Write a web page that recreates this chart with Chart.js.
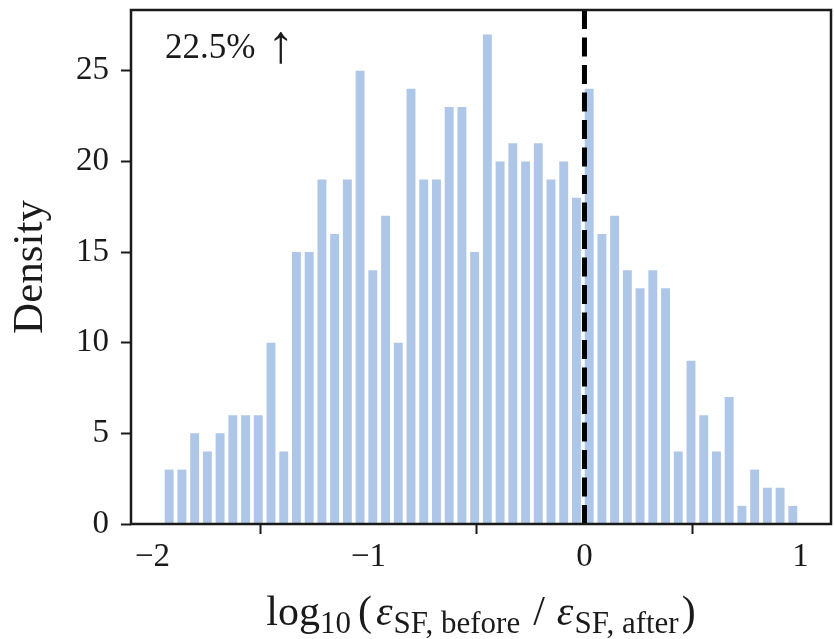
<!DOCTYPE html>
<html>
<head>
<meta charset="utf-8">
<script src="https://cdn.jsdelivr.net/npm/chart.js@4"></script>
<style>
html, body { margin: 0; padding: 0; background: #fff; }
#wrap { width: 834px; height: 639px; }
</style>
</head>
<body>
<div id="wrap"><canvas id="chart" width="834" height="639"></canvas></div>
<script>
// histogram bins (range and counts)
const binMin = -1.952;
const binMax = 0.994;
const counts = [3, 3, 5, 4, 5, 6, 6, 6, 10, 4,
                15, 15, 19, 16, 19, 25, 14, 17, 10, 24,
                19, 19, 23, 23, 15, 27, 20, 21, 20, 21,
                19, 20, 18, 24, 16, 17, 14, 13, 14, 13,
                4, 9, 6, 4, 7, 1, 3, 2, 2, 1];
const xTicks = [-2, -1, 0, 1];
const yTicks = [0, 5, 10, 15, 20, 25];
const refLineX = 0;
const noteText = '22.5%';
const noteArrow = '\u2191';
const yTitle = 'Density';

const FONT = '"Liberation Serif", "Times New Roman", serif';
const INK = '#1a1a1a';

const binWidth = (binMax - binMin) / counts.length;
const centers = counts.map((c, i) => binMin + (i + 0.5) * binWidth);
const span = binMax - binMin;
const xMin = binMin - 0.05 * span;
const xMax = binMax + 0.05 * span;
const yMax = Math.max(...counts) * 1.05;

function fmtTick(v) {
    return v < 0 ? '\u2212' + Math.abs(v) : String(v);
}

// x label with subscripts: log10(eps_SF,before / eps_SF,after)
const xLabelParts = [
    { t: 'log', size: 42, style: '', dy: 0, gap: 0 },
    { t: '10', size: 31, style: '', dy: 8, gap: 0 },
    { t: '(', size: 42, style: '', dy: 0, gap: 7 },
    { t: '\u03b5', size: 42, style: 'italic ', dy: 0, gap: 4 },
    { t: 'SF, before', size: 31, style: '', dy: 8, gap: 1 },
    { t: '/', size: 42, style: '', dy: 0, gap: 13 },
    { t: '\u03b5', size: 42, style: 'italic ', dy: 0, gap: 12 },
    { t: 'SF, after', size: 31, style: '', dy: 8, gap: 1 },
    { t: ')', size: 42, style: '', dy: 0, gap: 3 }
];

const decor = {
    id: 'decor',
    afterDatasetsDraw(chart) {
        const ctx = chart.ctx;
        const a = chart.chartArea;
        const x = chart.scales.x.getPixelForValue(refLineX);
        ctx.save();
        // dashed reference line
        ctx.strokeStyle = '#000';
        ctx.lineWidth = 5;
        ctx.setLineDash([19, 8.5]);
        ctx.beginPath();
        ctx.moveTo(x, a.bottom);
        ctx.lineTo(x, a.top);
        ctx.stroke();
        ctx.setLineDash([]);
        // frame
        ctx.strokeStyle = INK;
        ctx.lineWidth = 2.5;
        ctx.strokeRect(a.left, a.top, a.right - a.left, a.bottom - a.top);
        // note
        ctx.fillStyle = INK;
        ctx.textBaseline = 'alphabetic';
        ctx.textAlign = 'left';
        ctx.font = '35px ' + FONT;
        ctx.fillText(noteText, a.left + 34, a.top + 48);
        const w = ctx.measureText(noteText).width;
        ctx.font = '54px ' + FONT;
        ctx.fillText(noteArrow, a.left + 34 + w + 12, a.top + 52);
        ctx.restore();
    },
    afterDraw(chart) {
        const ctx = chart.ctx;
        const a = chart.chartArea;
        ctx.save();
        ctx.fillStyle = INK;
        ctx.textBaseline = 'alphabetic';
        ctx.textAlign = 'left';
        let total = 0;
        xLabelParts.forEach(p => {
            ctx.font = p.style + p.size + 'px ' + FONT;
            p.w = ctx.measureText(p.t).width;
            total += p.gap + p.w;
        });
        let cx = (a.left + a.right) / 2 - total / 2;
        const base = 625;
        xLabelParts.forEach(p => {
            cx += p.gap;
            ctx.font = p.style + p.size + 'px ' + FONT;
            ctx.fillText(p.t, cx, base + p.dy);
            cx += p.w;
        });
        ctx.restore();
    }
};

const ctx = document.getElementById('chart').getContext('2d');
new Chart(ctx, {
    type: 'bar',
    data: {
        datasets: [{
            data: counts.map((c, i) => ({ x: centers[i], y: c })),
            backgroundColor: '#aec7e8',
            borderWidth: 0,
            barPercentage: 0.7,
            categoryPercentage: 1.0
        }]
    },
    options: {
        responsive: false,
        animation: false,
        layout: { padding: { top: 10, right: 3, left: 0, bottom: 0 } },
        plugins: {
            legend: { display: false },
            tooltip: { enabled: false }
        },
        scales: {
            x: {
                type: 'linear',
                min: xMin,
                max: xMax,
                offset: false,
                grid: { drawOnChartArea: false, drawTicks: true, tickLength: 10, tickWidth: 2, tickColor: INK },
                border: { display: false },
                ticks: {
                    font: { family: FONT, size: 33 },
                    color: INK,
                    padding: 4,
                    maxRotation: 0,
                    autoSkip: false,
                    callback: v => fmtTick(v)
                },
                afterBuildTicks: s => { s.ticks = xTicks.map(v => ({ value: v })); },
                afterFit: s => { s.height = 115; s.paddingLeft = 0; s.paddingRight = 0; }
            },
            y: {
                min: 0,
                max: yMax,
                grid: { drawOnChartArea: false, drawTicks: true, tickLength: 10, tickWidth: 2, tickColor: INK },
                border: { display: false },
                ticks: {
                    font: { family: FONT, size: 33 },
                    color: INK,
                    padding: 12,
                    autoSkip: false,
                    callback: v => fmtTick(v)
                },
                title: {
                    display: true,
                    text: yTitle,
                    font: { family: FONT, size: 43 },
                    color: INK,
                    padding: { top: 5, bottom: 0 }
                },
                afterBuildTicks: s => { s.ticks = yTicks.map(v => ({ value: v })); },
                afterFit: s => { s.width = 131; s.paddingTop = 0; s.paddingBottom = 0; }
            }
        }
    },
    plugins: [decor]
});
</script>
</body>
</html>
